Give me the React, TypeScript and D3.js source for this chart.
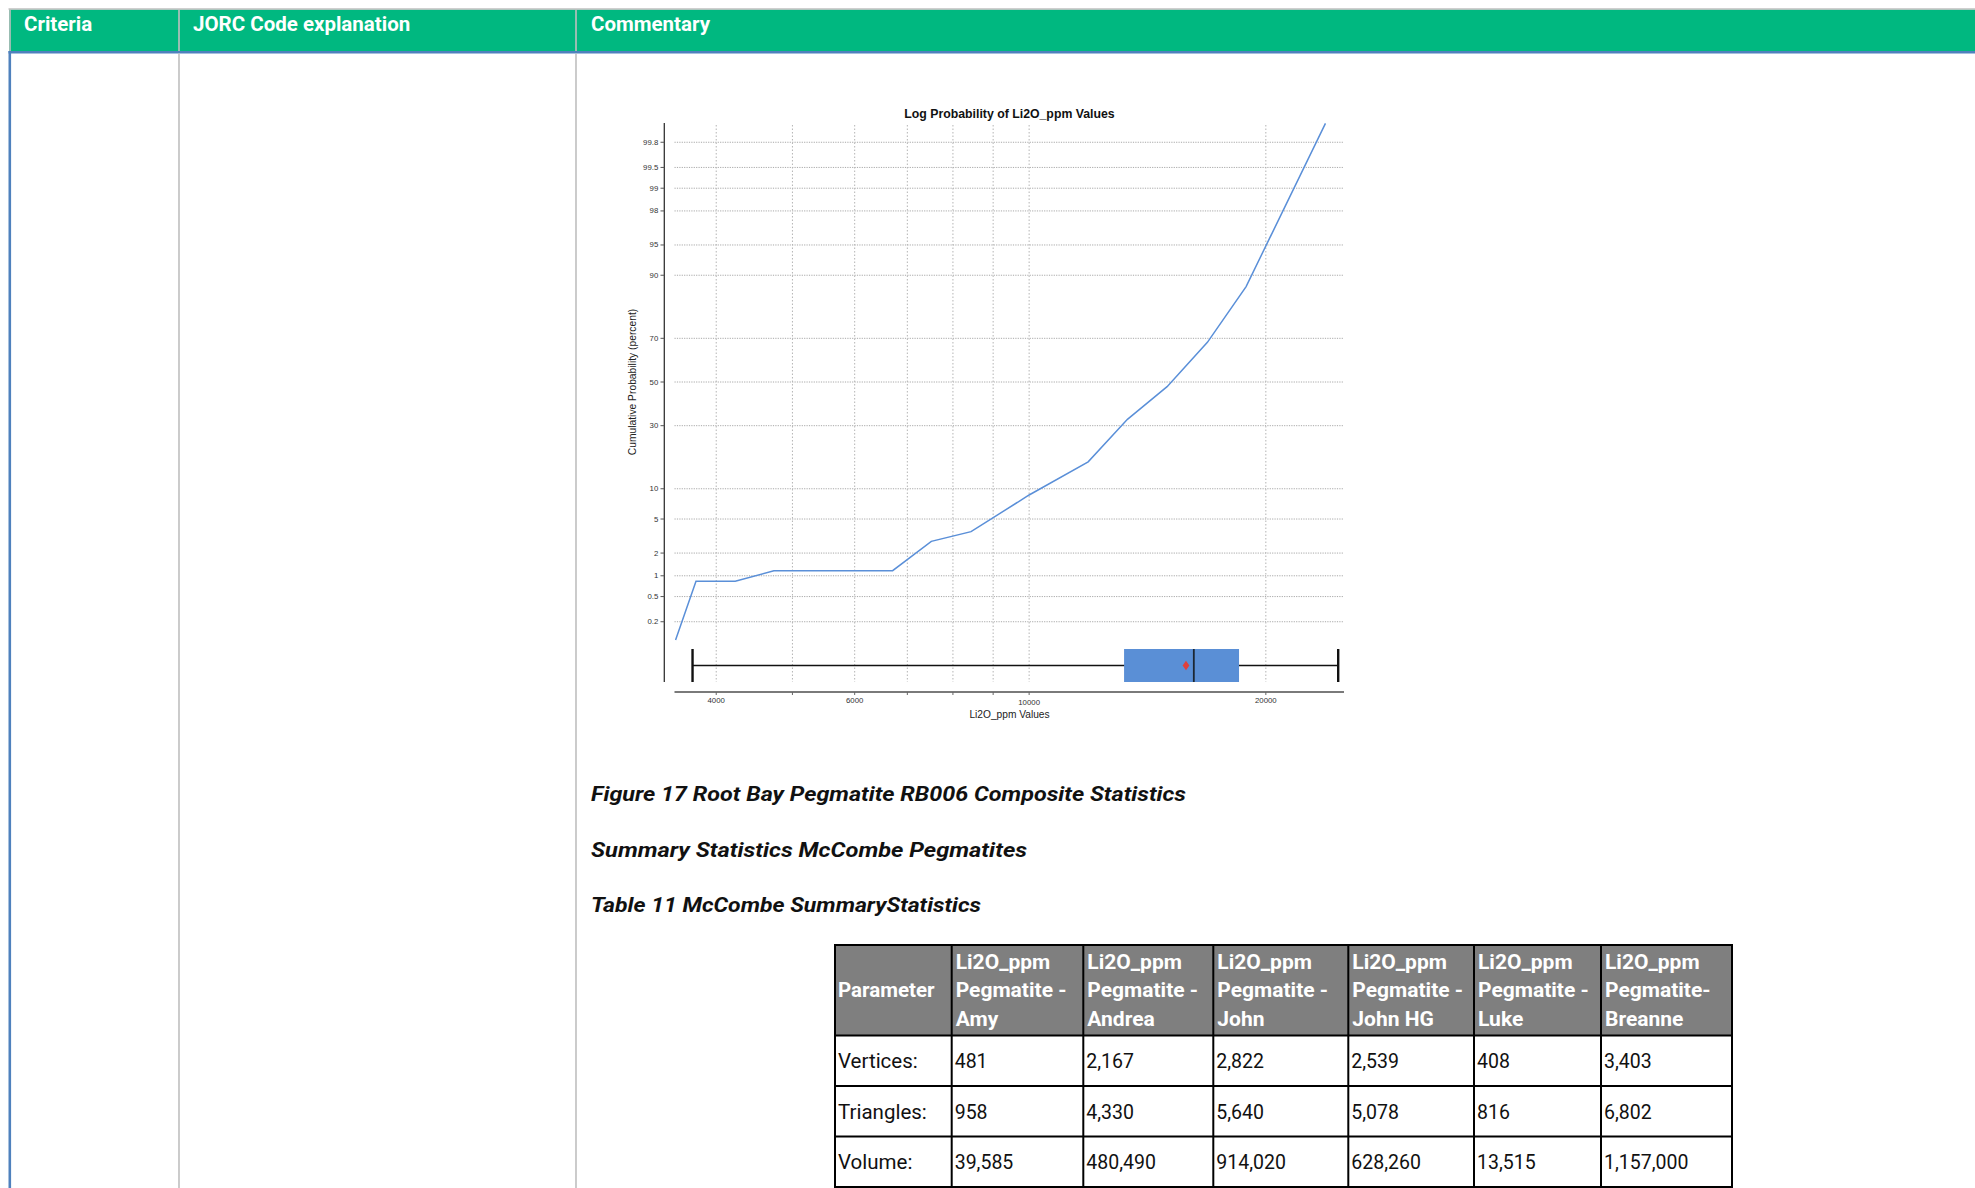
import React from 'react';
import * as d3 from 'd3';

// ---------- data ----------
const headerLabels = ['Criteria', 'JORC Code explanation', 'Commentary'];

const chartTitle = 'Log Probability of Li2O_ppm Values';
const xAxisLabel = 'Li2O_ppm Values';
const yAxisLabel = 'Cumulative Probability (percent)';

const xLabelTicks = [4000, 6000, 10000, 20000];
const xGridTicks = [4000, 5000, 6000, 7000, 8000, 9000, 10000, 20000];
const yTicks = [0.2, 0.5, 1, 2, 5, 10, 30, 50, 70, 90, 95, 98, 99, 99.5, 99.8];

const li2oValues = [3551, 3770, 4229, 4736, 6705, 7509, 8436, 10000, 11887, 13336, 14978, 16854, 18877, 23815];
const cumProbability = [0.098, 0.836, 0.836, 1.175, 1.175, 2.79, 3.62, 8.75, 16.9, 32.7, 47.75, 68.3, 87.4, 99.905];

const boxWhiskerLow = 3732;
const boxQ1 = 13205;
const boxMedian = 16197;
const boxMean = 15830;
const boxQ3 = 18490;
const boxWhiskerHigh = 24720;

const captions = [
  'Figure 17 Root Bay Pegmatite RB006 Composite Statistics',
  'Summary Statistics McCombe Pegmatites',
  'Table 11 McCombe SummaryStatistics',
];

const pegmatiteNames = ['Amy', 'Andrea', 'John', 'John HG', 'Luke', 'Breanne'];
const pegmatiteSecondLine = ['Pegmatite -', 'Pegmatite -', 'Pegmatite -', 'Pegmatite -', 'Pegmatite -', 'Pegmatite-'];
const rowLabels = ['Vertices:', 'Triangles:', 'Volume:'];
const vertices = [481, 2167, 2822, 2539, 408, 3403];
const triangles = [958, 4330, 5640, 5078, 816, 6802];
const volumes = [39585, 480490, 914020, 628260, 13515, 1157000];

// ---------- helpers ----------
function normInv(p: number): number {
  const a = [-3.969683028665376e1, 2.209460984245205e2, -2.759285104469687e2, 1.38357751867269e2, -3.066479806614716e1, 2.506628277459239];
  const b = [-5.447609879822406e1, 1.615858368580409e2, -1.556989798598866e2, 6.680131188771972e1, -1.328068155288572e1];
  const c = [-7.784894002430293e-3, -3.223964580411365e-1, -2.400758277161838, -2.549671500406040, 4.374664141464968, 2.938163982698783];
  const d = [7.784695709041462e-3, 3.224671290700398e-1, 2.445134137142996, 3.754408661907416];
  const pl = 0.02425;
  const ph = 1 - pl;
  let q: number, r: number;
  if (p < pl) {
    q = Math.sqrt(-2 * Math.log(p));
    return (((((c[0] * q + c[1]) * q + c[2]) * q + c[3]) * q + c[4]) * q + c[5]) / ((((d[0] * q + d[1]) * q + d[2]) * q + d[3]) * q + 1);
  }
  if (p <= ph) {
    q = p - 0.5;
    r = q * q;
    return ((((((a[0] * r + a[1]) * r + a[2]) * r + a[3]) * r + a[4]) * r + a[5]) * q) / (((((b[0] * r + b[1]) * r + b[2]) * r + b[3]) * r + b[4]) * r + 1);
  }
  q = Math.sqrt(-2 * Math.log(1 - p));
  return -(((((c[0] * q + c[1]) * q + c[2]) * q + c[3]) * q + c[4]) * q + c[5]) / ((((d[0] * q + d[1]) * q + d[2]) * q + d[3]) * q + 1);
}

const W = 1975;
const H = 1188;
const GREEN = '#00b880';
const BLUE = '#4f81bd';
const RULE = '#bfbfbf';
const LINE_BLUE = '#5a8fd8';
const chartFont = '"Liberation Sans", Arial, Helvetica, sans-serif';
const docFont = 'Roboto, "Noto Sans", sans-serif';

// chart geometry
const plotLeft = 674.5;
const plotRight = 1343;
const plotTop = 123;
const plotBottom = 682;
const yAxisX = 664.3;
const xAxisY = 692;

const x = d3.scaleLog().domain([3540, 25070]).range([plotLeft, plotRight]);
const zScale = d3.scaleLinear().domain([-3, 3]).range([631.9, 132.1]);
const yProb = (p: number) => zScale(normInv(p / 100));

const probLine = d3
  .line<number>()
  .x((_, i) => x(li2oValues[i]))
  .y((_, i) => yProb(cumProbability[i]));

const fmt = d3.format(',');

// table geometry
const colEdges = [835, 951.7, 1083.3, 1213.3, 1348.3, 1474, 1601, 1732];
const rowEdges = [945, 1035.5, 1086, 1136.5, 1187, 1237.5];

export default function App() {
  const boxMid = plotBottom - 16.5;
  const boxTop = plotBottom - 33;
  const tableRows = [vertices, triangles, volumes];
  const headerBaselines = [968.5, 997, 1025.5];

  return (
    <svg
      width={W}
      height={H}
      style={{ position: 'absolute', left: 0, top: 0, display: 'block', background: '#fff' }}
    >
      <rect x={0} y={0} width={W} height={H} fill="#ffffff" />

      {/* document frame */}
      <rect x={9} y={9.5} width={W - 9} height={41.5} fill={GREEN} />
      <line x1={8.5} x2={W} y1={9} y2={9} stroke={RULE} strokeWidth={1.5} />
      <line x1={8.5} x2={W} y1={52.3} y2={52.3} stroke={BLUE} strokeWidth={2.6} />
      <line x1={10} x2={10} y1={9} y2={51} stroke={RULE} strokeWidth={1.6} />
      <line x1={9.8} x2={9.8} y1={51} y2={H} stroke={BLUE} strokeWidth={2.6} />
      {[179, 576].map((cx) => (
        <g key={cx}>
          <line x1={cx} x2={cx} y1={9} y2={51} stroke={RULE} strokeWidth={1.6} />
          <line x1={cx} x2={cx} y1={53.5} y2={H} stroke={RULE} strokeWidth={1.6} />
        </g>
      ))}
      {headerLabels.map((t, i) => (
        <text
          key={t}
          x={[24, 193, 591][i]}
          y={31}
          fill="#ffffff"
          fontFamily={docFont}
          fontWeight={700}
          fontSize={20.5}
        >
          {t}
        </text>
      ))}

      {/* ---------- chart ---------- */}
      <text
        x={1009.5}
        y={114}
        textAnchor="middle"
        dominantBaseline="central"
        fontFamily={chartFont}
        fontWeight={700}
        fontSize={12.3}
        fill="#111"
      >
        {chartTitle}
      </text>

      {/* grid */}
      {yTicks.map((t) => (
        <line
          key={'hy' + t}
          x1={plotLeft}
          x2={plotRight}
          y1={yProb(t)}
          y2={yProb(t)}
          stroke="#a8a8a8"
          strokeWidth={1}
          strokeDasharray="1.2,1.2"
        />
      ))}
      {xGridTicks.map((t) => (
        <line
          key={'vx' + t}
          x1={x(t)}
          x2={x(t)}
          y1={plotTop + 2}
          y2={plotBottom}
          stroke="#b4b4b4"
          strokeWidth={1}
          strokeDasharray="1.5,2"
        />
      ))}

      {/* y axis */}
      <line x1={yAxisX} x2={yAxisX} y1={plotTop} y2={plotBottom} stroke="#333" strokeWidth={1.3} />
      {yTicks.map((t) => (
        <g key={'yt' + t}>
          <line x1={yAxisX - 3.8} x2={yAxisX} y1={yProb(t)} y2={yProb(t)} stroke="#555" strokeWidth={1} />
          <text
            x={yAxisX - 6}
            y={yProb(t)}
            textAnchor="end"
            dominantBaseline="central"
            fontFamily={chartFont}
            fontSize={7.8}
            fill="#333"
          >
            {String(t)}
          </text>
        </g>
      ))}
      <text
        transform={`translate(632,${zScale(0)}) rotate(-90)`}
        textAnchor="middle"
        dominantBaseline="central"
        fontFamily={chartFont}
        fontSize={10.3}
        fill="#222"
      >
        {yAxisLabel}
      </text>

      {/* x axis */}
      <line x1={plotLeft} x2={plotRight + 1} y1={xAxisY} y2={xAxisY} stroke="#7a7a7a" strokeWidth={2} />
      {xGridTicks.map((t) => (
        <line key={'xt' + t} x1={x(t)} x2={x(t)} y1={xAxisY} y2={xAxisY + 3} stroke="#666" strokeWidth={1} />
      ))}
      {xLabelTicks.map((t) => (
        <text
          key={'xl' + t}
          x={x(t)}
          y={t === 10000 ? 702.5 : 700.7}
          textAnchor="middle"
          dominantBaseline="central"
          fontFamily={chartFont}
          fontSize={7.8}
          fill="#333"
        >
          {String(t)}
        </text>
      ))}
      <text
        x={1009.5}
        y={714.3}
        textAnchor="middle"
        dominantBaseline="central"
        fontFamily={chartFont}
        fontSize={10.2}
        fill="#222"
      >
        {xAxisLabel}
      </text>

      {/* probability line */}
      <path d={probLine(li2oValues) || ''} fill="none" stroke={LINE_BLUE} strokeWidth={1.5} />

      {/* box plot */}
      <line x1={x(boxWhiskerLow)} x2={x(boxWhiskerHigh)} y1={boxMid} y2={boxMid} stroke="#111" strokeWidth={1.4} />
      <line x1={x(boxWhiskerLow)} x2={x(boxWhiskerLow)} y1={boxTop} y2={plotBottom} stroke="#111" strokeWidth={2.4} />
      <line x1={x(boxWhiskerHigh)} x2={x(boxWhiskerHigh)} y1={boxTop} y2={plotBottom} stroke="#111" strokeWidth={2.4} />
      <rect
        x={x(boxQ1)}
        y={boxTop}
        width={x(boxQ3) - x(boxQ1)}
        height={plotBottom - boxTop}
        fill="#5a8fd6"
      />
      <line x1={x(boxMedian)} x2={x(boxMedian)} y1={boxTop} y2={plotBottom} stroke="#1b2733" strokeWidth={1.8} />
      <path
        d={`M${x(boxMean)},${boxMid - 4.8} L${x(boxMean) + 3.4},${boxMid} L${x(boxMean)},${boxMid + 4.8} L${x(boxMean) - 3.4},${boxMid} Z`}
        fill="#e0403c"
      />

      {/* ---------- captions ---------- */}
      {captions.map((t, i) => (
        <text
          key={t}
          x={591}
          y={[801, 856.5, 912][i]}
          fontFamily={docFont}
          fontWeight={700}
          fontStyle="italic"
          fontSize={21}
          fill="#111"
          textLength={[595, 436, 390][i]}
          lengthAdjust="spacingAndGlyphs"
        >
          {t}
        </text>
      ))}

      {/* ---------- table ---------- */}
      <rect
        x={colEdges[0]}
        y={rowEdges[0]}
        width={colEdges[colEdges.length - 1] - colEdges[0]}
        height={rowEdges[1] - rowEdges[0]}
        fill="#7f7f7f"
      />
      <text
        x={colEdges[0] + 3}
        y={headerBaselines[1]}
        fill="#fff"
        fontFamily={docFont}
        fontWeight={700}
        fontSize={20.5}
      >
        Parameter
      </text>
      {pegmatiteNames.map((name, i) => (
        <g key={name}>
          {['Li2O_ppm', pegmatiteSecondLine[i], name].map((ln, j) => (
            <text
              key={j}
              x={colEdges[i + 1] + 4}
              y={headerBaselines[j]}
              fill="#fff"
              fontFamily={docFont}
              fontWeight={700}
              fontSize={21}
            >
              {ln}
            </text>
          ))}
        </g>
      ))}
      {rowLabels.map((lab, r) => {
        const base = (rowEdges[r + 1] + rowEdges[r + 2]) / 2 + 7.5;
        return (
          <g key={lab}>
            <text x={colEdges[0] + 3} y={base} fontFamily={docFont} fontSize={20.5} fill="#111">
              {lab}
            </text>
            {tableRows[r].map((v, i) => (
              <text key={i} x={colEdges[i + 1] + 3} y={base} fontFamily={docFont} fontSize={19.5} fill="#111">
                {fmt(v)}
              </text>
            ))}
          </g>
        );
      })}
      {rowEdges.map((ry) => (
        <line
          key={'r' + ry}
          x1={colEdges[0] - 1}
          x2={colEdges[colEdges.length - 1] + 1}
          y1={ry}
          y2={ry}
          stroke="#000"
          strokeWidth={2}
        />
      ))}
      {colEdges.map((cx) => (
        <line
          key={'c' + cx}
          x1={cx}
          x2={cx}
          y1={rowEdges[0]}
          y2={rowEdges[rowEdges.length - 1]}
          stroke="#000"
          strokeWidth={2}
        />
      ))}
    </svg>
  );
}
